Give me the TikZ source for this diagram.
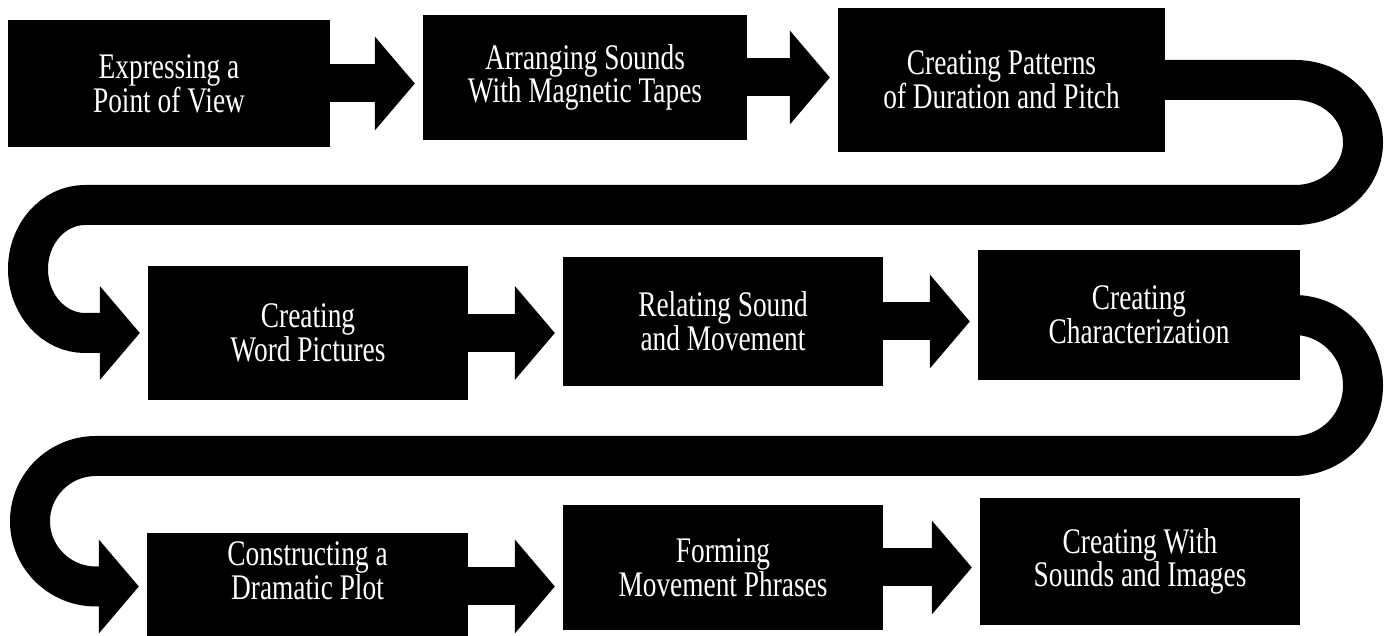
\documentclass[tikz,border=0pt]{standalone}
\usepackage{fontspec}
\setmainfont{Liberation Serif}[FakeStretch=0.76]
\usetikzlibrary{arrows.meta}
\begin{document}
\begin{tikzpicture}[x=1pt,y=1pt,
  stepbox/.style={fill=black, text=white, align=center, inner sep=0pt,
    font=\fontsize{36}{32}\selectfont},
  conn/.style={draw=black, line width=38pt,
    -{Triangle[length=40pt,width=94pt,line width=0pt]}},
  loopconn/.style={conn, line width=40pt}]
\useasboundingbox[fill=white] (0,0) rectangle (1385,636);
% row 1
\node[stepbox, minimum width=322pt, minimum height=127pt] (b1) at (169,552.5) {Expressing a\\Point of View};
\node[stepbox, minimum width=324pt, minimum height=125pt] (b2) at (585,558.5) {Arranging Sounds\\With Magnetic Tapes};
\node[stepbox, minimum width=327pt, minimum height=144pt] (b3) at (1001.5,556) {Creating Patterns\\of Duration and Pitch};
% row 2
\node[stepbox, minimum width=320pt, minimum height=134pt] (b4) at (308,303) {Creating\\Word Pictures};
\node[stepbox, minimum width=320pt, minimum height=129pt] (b5) at (723,314.5) {Relating Sound\\and Movement};
\node[stepbox, minimum width=322pt, minimum height=130pt] (b6) at (1139,321) {Creating\\Characterization};
% row 3
\node[stepbox, minimum width=321pt, minimum height=107pt] (b7) at (307.5,49.5) {Constructing a\\Dramatic Plot\\\mbox{}};
\node[stepbox, minimum width=320pt, minimum height=125pt] (b8) at (723,68.5) {Forming\\Movement Phrases};
\node[stepbox, minimum width=320pt, minimum height=127pt] (b9) at (1140,74.5) {Creating With\\Sounds and Images};
% straight connectors
\draw[conn] (b1.east) -- ([xshift=-8pt]b1.east -| b2.west);
\draw[conn] (b2.east) -- ([xshift=-8pt]b2.east -| b3.west);
\draw[conn] (b4.east) -- ([xshift=-8pt]b4.east -| b5.west);
\draw[conn] (b5.east) -- ([xshift=-8pt]b5.east -| b6.west);
\draw[conn] (b7.east) -- ([xshift=-8pt]b7.east -| b8.west);
\draw[conn] (b8.east) -- ([xshift=-8pt]b8.east -| b9.west);
% loops
\draw[loopconn] (b3.east) -- (1295,556) arc[start angle=90, end angle=-90, x radius=68, y radius=62.5]
  -- (85,431) arc[start angle=90, end angle=270, x radius=57, y radius=64]
  -- ([xshift=-8pt]b4.west);
\draw[loopconn] (b6.east) -- (1294,321) arc[start angle=90, end angle=-90, x radius=69, y radius=70.5]
  -- (96,180) arc[start angle=90, end angle=270, x radius=66, y radius=65.25]
  -- ([xshift=-8pt]b7.west);
\end{tikzpicture}
\end{document}
